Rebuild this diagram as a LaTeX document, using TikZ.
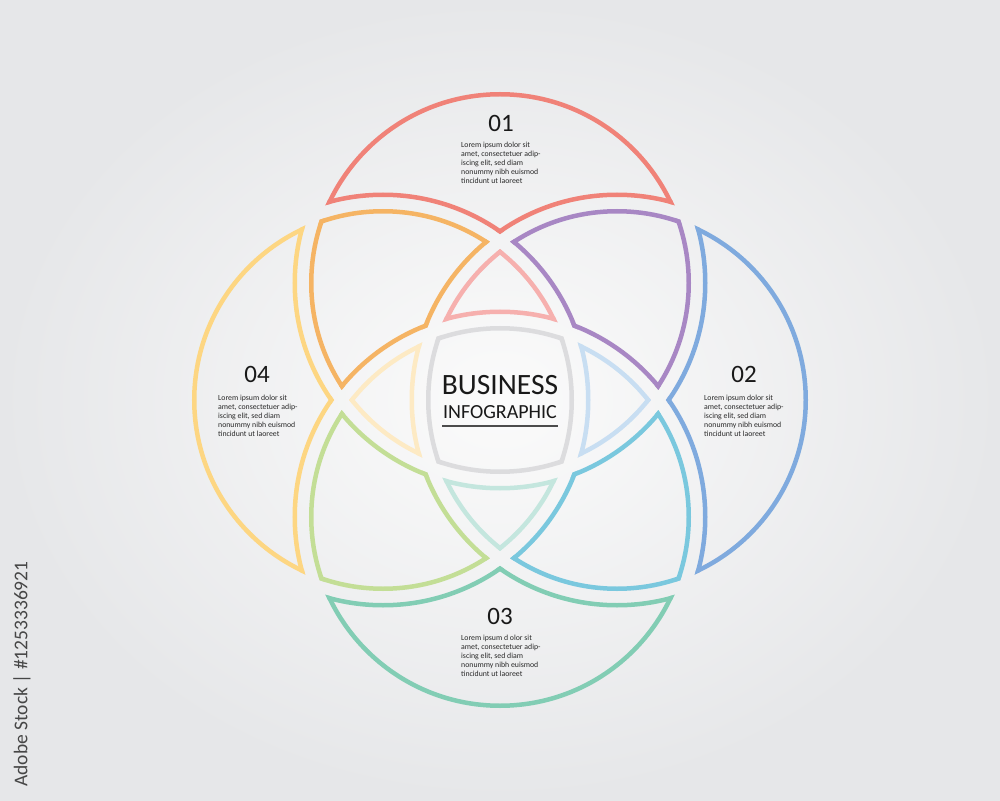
\documentclass[tikz,border=0pt]{standalone}
\usepackage{fontspec}
\setmainfont{Carlito}
\definecolor{bgInner}{RGB}{251,251,251}
\definecolor{bgOuter}{RGB}{230,231,233}
\definecolor{redOne}{RGB}{240,130,120}
\definecolor{blueTwo}{RGB}{127,170,222}
\definecolor{tealThree}{RGB}{130,205,180}
\definecolor{yellowFour}{RGB}{253,214,130}
\definecolor{orangeTL}{RGB}{245,180,100}
\definecolor{purpleTR}{RGB}{168,135,196}
\definecolor{cyanBR}{RGB}{122,200,222}
\definecolor{greenBL}{RGB}{195,222,150}
\definecolor{pinkT}{RGB}{246,176,174}
\definecolor{paleBlueR}{RGB}{200,222,242}
\definecolor{paleTealB}{RGB}{196,230,222}
\definecolor{paleYellowL}{RGB}{253,234,196}
\definecolor{greyMid}{RGB}{220,220,222}
\definecolor{loremGray}{RGB}{40,40,40}
\definecolor{stockGray}{RGB}{70,70,70}
\tikzset{
  ring/.style={line width=9pt},
  num/.style={font=\fontsize{25}{25}\selectfont, text=black!90},
  lorem/.style={font=\fontsize{7.8}{9}\selectfont, align=left, anchor=north west, inner sep=0pt, text=loremGray},
  title/.style={anchor=base, inner sep=0pt, text=black!90},
  rule/.style={line width=1.6pt, draw=black!70}
}
\newcommand{\radin}{191}
\newcommand{\radout}{203}
\newcommand{\clipin}[1]{\clip (#1) circle[radius=\radin];}
% clockwise frame plus counter-clockwise circle: keeps the outside only
\newcommand{\clipout}[1]{\clip (-600,-500) rectangle (600,500) (#1) ++(\radout,0) arc[start angle=0, end angle=360, radius=\radout] -- cycle;}
\newcommand{\petalring}[1]{\foreach \ctr in {T,R,B,L} {\draw[ring,#1] (\ctr) circle[radius=\radin] (\ctr) circle[radius=\radout];}}
\newcommand{\filler}[1]{#1\\amet, consectetuer adip-\\iscing elit, sed diam\\nonummy nibh euismod\\tincidunt ut laoreet}

\begin{document}
\begin{tikzpicture}[x=1pt,y=1pt]
  \useasboundingbox (-500,-400) rectangle (500,400);
  \shade[inner color=bgInner, outer color=bgOuter] (-500,-400) rectangle (500,400);

  \coordinate (T) at (0,117);
  \coordinate (R) at (117,0);
  \coordinate (B) at (0,-117);
  \coordinate (L) at (-117,0);

  % one circle only
  \begin{scope}\clipin{T}\clipout{L}\clipout{R}\clipout{B}\petalring{redOne}\end{scope}
  \begin{scope}\clipin{R}\clipout{T}\clipout{B}\clipout{L}\petalring{blueTwo}\end{scope}
  \begin{scope}\clipin{B}\clipout{L}\clipout{R}\clipout{T}\petalring{tealThree}\end{scope}
  \begin{scope}\clipin{L}\clipout{T}\clipout{B}\clipout{R}\petalring{yellowFour}\end{scope}
  % two circles
  \begin{scope}\clipin{T}\clipin{L}\clipout{R}\clipout{B}\petalring{orangeTL}\end{scope}
  \begin{scope}\clipin{T}\clipin{R}\clipout{L}\clipout{B}\petalring{purpleTR}\end{scope}
  \begin{scope}\clipin{R}\clipin{B}\clipout{T}\clipout{L}\petalring{cyanBR}\end{scope}
  \begin{scope}\clipin{B}\clipin{L}\clipout{T}\clipout{R}\petalring{greenBL}\end{scope}
  % three circles
  \begin{scope}\clipin{T}\clipin{L}\clipin{R}\clipout{B}\petalring{pinkT}\end{scope}
  \begin{scope}\clipin{T}\clipin{R}\clipin{B}\clipout{L}\petalring{paleBlueR}\end{scope}
  \begin{scope}\clipin{B}\clipin{L}\clipin{R}\clipout{T}\petalring{paleTealB}\end{scope}
  \begin{scope}\clipin{T}\clipin{L}\clipin{B}\clipout{R}\petalring{paleYellowL}\end{scope}
  % all four
  \begin{scope}\clipin{T}\clipin{R}\clipin{B}\clipin{L}\petalring{greyMid}\end{scope}

  \node[title, font=\fontsize{29.5}{30}\selectfont] (business) at (0,6) {BUSINESS};
  \node[title, font=\fontsize{20}{20}\selectfont] (infog) at (0,-18) {INFOGRAPHIC};
  \draw[rule] (-58,-26) -- (58,-26);

  \node[num] (n01) at (1,277) {01};
  \node[lorem] (t01) at (-39,258) {\filler{Lorem ipsum dolor sit}};
  \node[num] (n02) at (244,26) {02};
  \node[lorem] (t02) at (204,5) {\filler{Lorem ipsum dolor sit}};
  \node[num] (n03) at (0,-216) {03};
  \node[lorem] (t03) at (-39,-235) {\filler{Lorem ipsum d olor sit}};
  \node[num] (n04) at (-243,26) {04};
  \node[lorem] (t04) at (-282,5) {\filler{Lorem ipsum dolor sit}};

  \node[rotate=90, font=\fontsize{19.5}{20}\selectfont, text=stockGray] (stock) at (-478,-274) {Adobe Stock | \#1253336921};
\end{tikzpicture}
\end{document}
